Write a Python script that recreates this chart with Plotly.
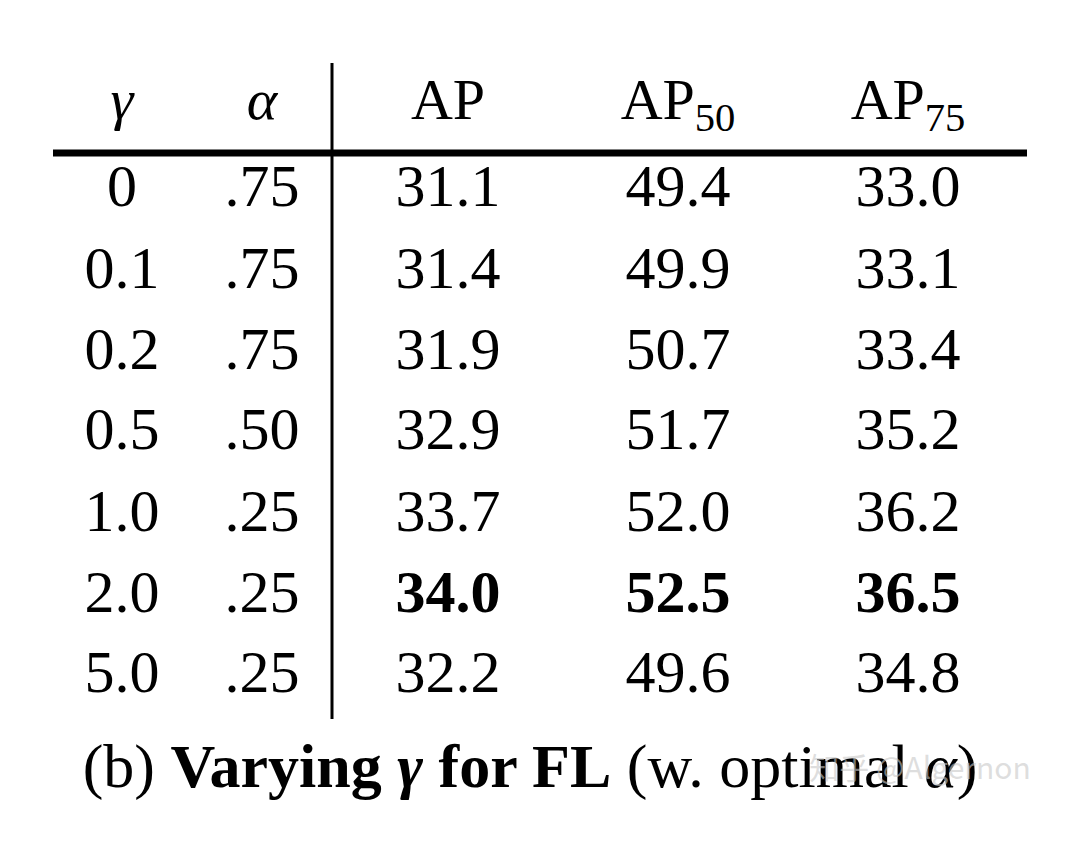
import plotly.graph_objects as go

gammas = ["0", "0.1", "0.2", "0.5", "1.0", "2.0", "5.0"]
alphas = [".75", ".75", ".75", ".50", ".25", ".25", ".25"]
ap = ["31.1", "31.4", "31.9", "32.9", "33.7", "34.0", "32.2"]
ap50 = ["49.4", "49.9", "50.7", "51.7", "52.0", "52.5", "49.6"]
ap75 = ["33.0", "33.1", "33.4", "35.2", "36.2", "36.5", "34.8"]
headers = ["<i>γ</i>", "<i>α</i>", "AP", "AP<sub>50</sub>", "AP<sub>75</sub>"]
best_row = 5
caption = "(b) <b>Varying <i>γ</i> for FL</b> (w. optimal <i>α</i>)"

col_x = [122, 262, 448, 678, 908]
header_y = 103
row_y = [190, 272, 353, 433, 515, 596, 676]

FONT = "Liberation Serif, Times New Roman, serif"
fig = go.Figure()
fig.add_trace(go.Scatter(x=col_x, y=[header_y]*5, mode="text", text=headers,
                         textfont=dict(family=FONT, size=58, color="black"), hoverinfo="skip"))
cols = [gammas, alphas, ap, ap50, ap75]
for ci, col in enumerate(cols):
    txt = [f"<b>{v}</b>" if (i == best_row and ci >= 2) else v for i, v in enumerate(col)]
    fig.add_trace(go.Scatter(x=[col_x[ci]]*len(col), y=row_y, mode="text", text=txt,
                             textfont=dict(family=FONT, size=60, color="black"), hoverinfo="skip"))
fig.add_trace(go.Scatter(x=[530], y=[770], mode="text", text=[caption],
                         textfont=dict(family=FONT, size=62, color="black"), hoverinfo="skip"))
fig.add_trace(go.Scatter(x=[920], y=[770], mode="text", text=["知乎 @Algernon"],
                         textfont=dict(family="Noto Sans CJK SC", size=30, color="rgba(200,200,200,0.6)"),
                         hoverinfo="skip"))
fig.add_shape(type="line", x0=53, x1=1027, y0=152, y1=152, line=dict(color="black", width=7))
fig.add_shape(type="line", x0=332, x1=332, y0=62, y1=718, line=dict(color="black", width=3))
fig.update_layout(width=1068, height=842, margin=dict(l=0, r=0, t=0, b=0),
                  paper_bgcolor="white", plot_bgcolor="white", showlegend=False,
                  xaxis=dict(range=[8, 1076], visible=False, fixedrange=True),
                  yaxis=dict(range=[849, 7], visible=False, fixedrange=True))
fig.write_html("out.html")
